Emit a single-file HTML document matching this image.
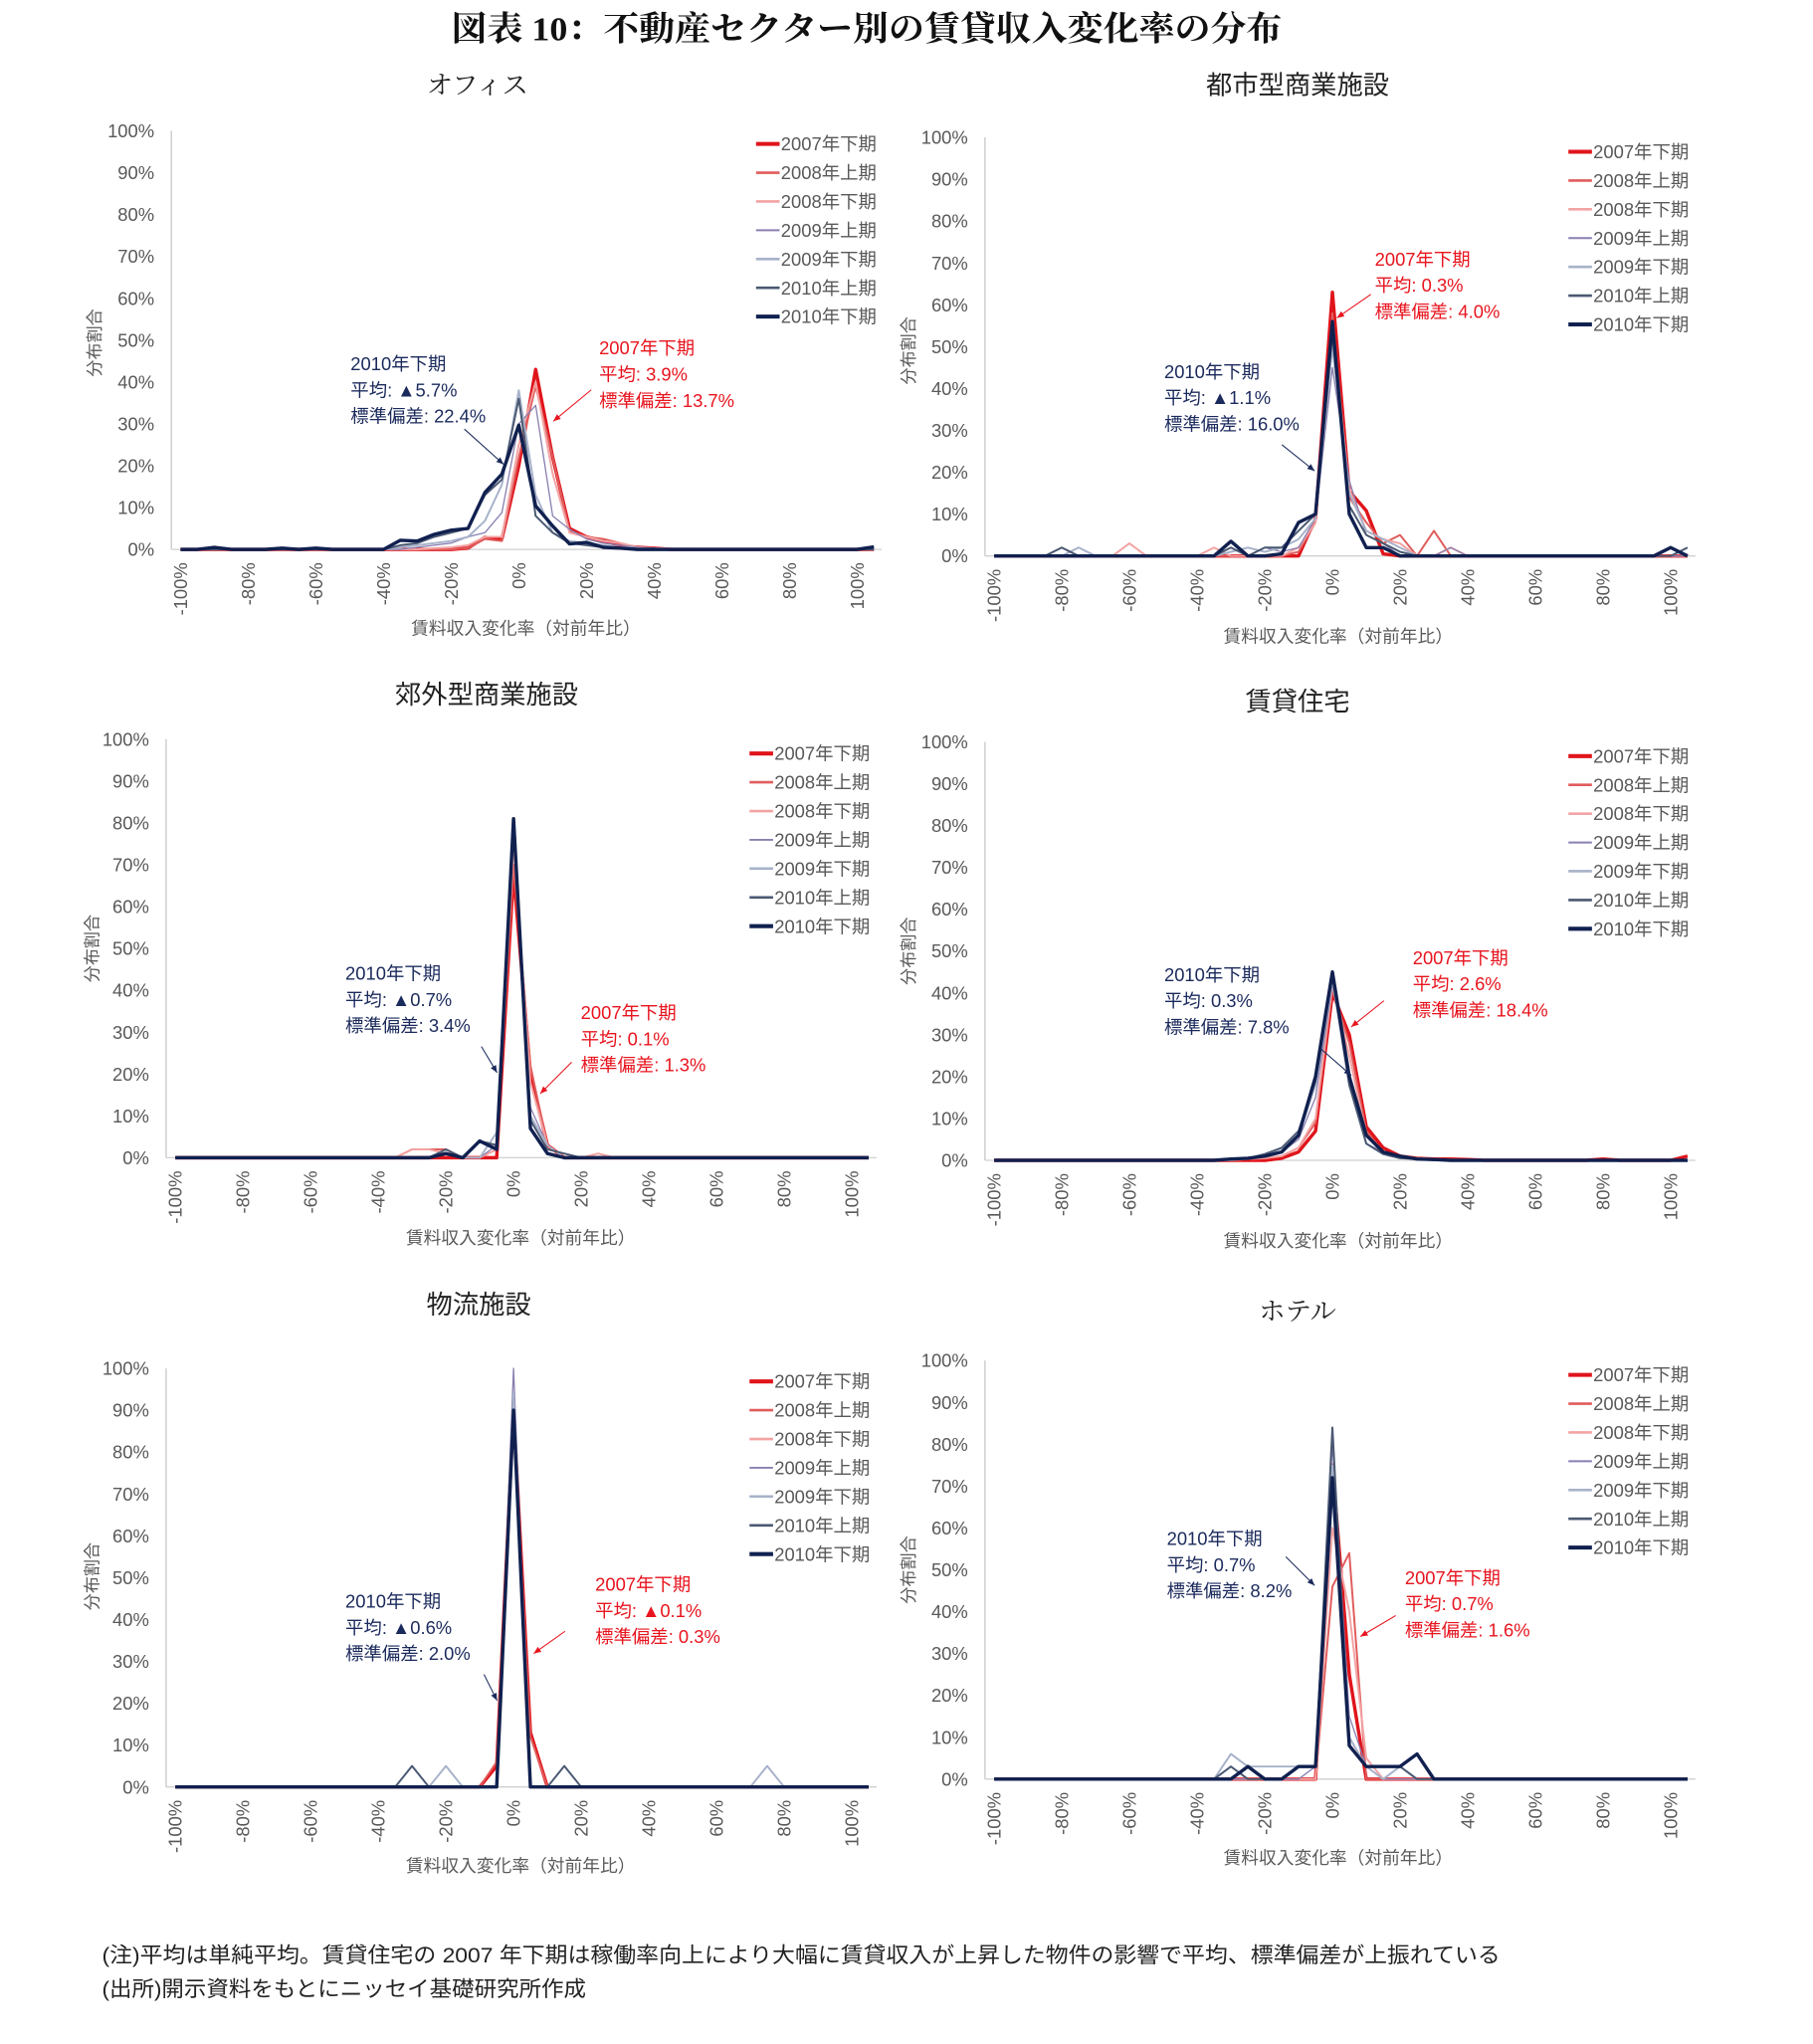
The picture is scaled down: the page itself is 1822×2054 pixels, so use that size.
<!DOCTYPE html>
<html><head><meta charset="utf-8"><style>
html,body{margin:0;padding:0;background:#fff;}
svg{display:block;font-family:"Liberation Sans","Noto Sans CJK JP",sans-serif;}
.serif{font-family:"Liberation Serif","Noto Serif CJK SC",serif;}
</style></head><body>
<svg id="root" width="1822" height="2054" viewBox="0 0 1386 1562.5" preserveAspectRatio="none" xmlns="http://www.w3.org/2000/svg">
<text class="serif" x="345" y="31" textLength="635" lengthAdjust="spacingAndGlyphs" font-size="26" font-weight="bold" fill="#111">図表 10：不動産セクター別の賃貸収入変化率の分布</text>
<text x="78" y="1500" font-size="16.5" textLength="1069" lengthAdjust="spacingAndGlyphs" fill="#222">(注)平均は単純平均。賃貸住宅の 2007 年下期は稼働率向上により大幅に賃貸収入が上昇した物件の影響で平均、標準偏差が上振れている</text>
<text x="78" y="1526" font-size="16.5" textLength="370" lengthAdjust="spacingAndGlyphs" fill="#222">(出所)開示資料をもとにニッセイ基礎研究所作成</text>
</svg>
<script>
const categories=[-100,-95,-90,-85,-80,-75,-70,-65,-60,-55,-50,-45,-40,-35,-30,-25,-20,-15,-10,-5,0,5,10,15,20,25,30,35,40,45,50,55,60,65,70,75,80,85,90,95,100,105];
const tickLabels=["-100%","-80%","-60%","-40%","-20%","0%","20%","40%","60%","80%","100%"];
const tickValues=[-100,-80,-60,-40,-20,0,20,40,60,80,100];
const yTicks=[0,10,20,30,40,50,60,70,80,90,100];
const seriesNames=["2007年下期","2008年上期","2008年下期","2009年上期","2009年下期","2010年上期","2010年下期"];
// office
const office07=[0,0,0,0,0,0,0,0,0,0,0,0, 0,0,0,0,0,0.3,2.9,2.5,20,43,22,5,3,2,1,0.5,0.3, 0,0,0,0,0,0,0,0,0,0,0,0,0];
const office08a=[0,0,0,0,0,0,0,0,0,0,0,0, 0,0,0,0,0,0.3,2.5,2,22,39,22,4.5,3,2.5,1.5,0.5,0.3, 0.2,0,0,0,0,0,0,0,0,0,0,0,0];
const office08b=[0,0,0,0,0,0,0,0,0,0,0,0, 0,0,0,0.3,0.5,1,3,3,25,40,18,4,3,2,1.5,0.5,0.3, 0.2,0.2,0,0,0,0,0,0,0,0,0,0,0];
const office09a=[0,0,0,0,0,0,0,0,0,0,0,0, 0,0,0.5,1,1.5,3,4,8.8,30,34.4,8,4.8,2.5,1.5,1,0.5,0.3, 0,0,0,0,0,0,0,0,0,0,0,0,0];
const office09b=[0,0,0,0,0,0,0,0,0,0,0,0, 0,0.5,1,1.5,2,3,6.8,15.5,38,13,4,2,1.5,1,0.5,0.3,0.2, 0,0,0,0,0,0,0,0,0,0,0,0,0];
const office10a=[0,0,0,0,0,0,0,0,0,0,0,0, 0,1,1.5,3,4,5,13,16.7,36,8,4,1.5,1,0.5,0.3,0.2,0.2, 0,0,0,0,0,0,0,0,0,0,0,0,0];
const office10b=[0,0,0.5,0,0,0,0.3,0,0.3,0,0,0, 0,2.2,2,3.6,4.6,5,13.6,18,29.7,10.4,5.6,1.3,1.7,0.5,0.3,0,0, 0,0,0,0,0,0,0,0,0,0,0,0,0.6];
// urban
const urban07=[0,0,0,0,0,0,0,0,0,0,0,0, 0,0,0,0,0,0,0,9,63,15.5,10.8,0.5,0,0,0,0,0, 0,0,0,0,0,0,0,0,0,0,0,0,0];
const urban08a=[0,0,0,0,0,0,0,0,0,0,0,0, 0,0,0,0,0,0,1,8,58,14,8,3,5,0,6,0,0, 0,0,0,0,0,0,0,0,0,0,0,0,0];
const urban08b=[0,0,0,0,0,0,0,0,3,0,0,0, 0,2,0,0,0,0,2,8,55,16,6,4,3,0,0,2,0, 0,0,0,0,0,0,0,0,0,0,0,0,0];
const urban09a=[0,0,0,0,0,0,0,0,0,0,0,0, 0,0,2,0,2,1,2,9,45,18,5,3,0,0,0,2,0, 0,0,0,0,0,0,0,0,0,0,0,0,0];
const urban09b=[0,0,0,0,0,2,0,0,0,0,0,0, 0,0,1,2,1,2,4,9,50,15,6,4,2,0,0,0,0, 0,0,0,0,0,0,0,0,0,0,0,2,0];
const urban10a=[0,0,0,0,2,0,0,0,0,0,0,0, 0,0,2,0,2,2,6,10,53,12,5,3,1,0,0,0,0, 0,0,0,0,0,0,0,0,0,0,0,0,2];
const urban10b=[0,0,0,0,0,0,0,0,0,0,0,0, 0,0,3.5,0,0,0.5,8,10,56,10,2,2,0,0,0,0,0, 0,0,0,0,0,0,0,0,0,0,0,2,0];
// suburban
const sub07=[0,0,0,0,0,0,0,0,0,0,0,0, 0,0,0,0,0,0,0,0,68,20,3,0,0,0,0,0,0, 0,0,0,0,0,0,0,0,0,0,0,0,0];
const sub08a=[0,0,0,0,0,0,0,0,0,0,0,0, 0,0,2,2,2,0,0,2,70,22,3,0,0,0,0,0,0, 0,0,0,0,0,0,0,0,0,0,0,0,0];
const sub08b=[0,0,0,0,0,0,0,0,0,0,0,0, 0,0,2,2,1,0,0,2,75,18,3,0,0,1,0,0,0, 0,0,0,0,0,0,0,0,0,0,0,0,0];
const sub09a=[0,0,0,0,0,0,0,0,0,0,0,0, 0,0,0,0,1,0,0,3,80,12,3,0,0,0,0,0,0, 0,0,0,0,0,0,0,0,0,0,0,0,0];
const sub09b=[0,0,0,0,0,0,0,0,0,0,0,0, 0,0,0,0,1,0,0,6,79,10,3,0,0,0,0,0,0, 0,0,0,0,0,0,0,0,0,0,0,0,0];
const sub10a=[0,0,0,0,0,0,0,0,0,0,0,0, 0,0,0,0,2,0,4,3,80,9,2,1,0,0,0,0,0, 0,0,0,0,0,0,0,0,0,0,0,0,0];
const sub10b=[0,0,0,0,0,0,0,0,0,0,0,0, 0,0,0,0,1,0,4,2,81,7,1,0,0,0,0,0,0, 0,0,0,0,0,0,0,0,0,0,0,0,0];
// rental
const rent07=[0,0,0,0,0,0,0,0,0,0,0,0, 0,0,0,0,0,0.5,2,7,40,30,8,3,1,0.5,0.3,0.3,0.2, 0,0,0,0,0,0,0,0.3,0,0,0,0,1];
const rent08a=[0,0,0,0,0,0,0,0,0,0,0,0, 0,0,0,0.3,0.5,1,3,9,41,28,7,2,1,0.5,0.3,0.2,0.1, 0,0,0,0,0,0,0,0,0,0,0,0,0];
const rent08b=[0,0,0,0,0,0,0,0,0,0,0,0, 0,0,0,0.3,0.5,1,3,10,42,25,6,2,1,0.5,0.3,0.2,0.1, 0,0,0,0,0,0,0,0,0,0,0,0,0];
const rent09a=[0,0,0,0,0,0,0,0,0,0,0,0, 0,0,0,0.5,1,2,5,15,42,20,4,2,1,0.5,0.3,0,0, 0,0,0,0,0,0,0,0,0,0,0,0,0];
const rent09b=[0,0,0,0,0,0,0,0,0,0,0,0, 0,0,0.3,0.5,1,3,6,18,43,18,4,1.5,1,0.3,0.2,0,0, 0,0,0,0,0,0,0,0,0,0,0,0,0];
const rent10a=[0,0,0,0,0,0,0,0,0,0,0,0, 0,0,0.3,0.5,1.5,3,7,19,44,18,4,1.5,0.5,0.3,0,0,0, 0,0,0,0,0,0,0,0,0,0,0,0,0];
const rent10b=[0,0,0,0,0,0,0,0,0,0,0,0, 0,0,0.3,0.5,1,2,6,20,45,20,6,2,1,0.3,0.2,0,0, 0,0,0,0,0,0,0,0,0,0,0,0,0];
// logistics
const logi07=[0,0,0,0,0,0,0,0,0,0,0,0, 0,0,0,0,0,0,0,5,90,13,0,0,0,0,0,0,0, 0,0,0,0,0,0,0,0,0,0,0,0,0];
const logi08a=[0,0,0,0,0,0,0,0,0,0,0,0, 0,0,0,0,0,0,0,6,88,12,0,0,0,0,0,0,0, 0,0,0,0,0,0,0,0,0,0,0,0,0];
const logi08b=[0,0,0,0,0,0,0,0,0,0,0,0, 0,0,0,0,0,0,0,0,92,0,0,0,0,0,0,0,0, 0,0,0,0,0,0,0,0,0,0,0,0,0];
const logi09a=[0,0,0,0,0,0,0,0,0,0,0,0, 0,0,0,0,0,0,0,0,100,0,0,0,0,0,0,0,0, 0,0,0,0,0,0,0,0,0,0,0,0,0];
const logi09b=[0,0,0,0,0,0,0,0,0,0,0,0, 0,0,0,0,5,0,0,0,94,0,0,0,0,0,0,0,0, 0,0,0,0,0,0,5,0,0,0,0,0,0];
const logi10a=[0,0,0,0,0,0,0,0,0,0,0,0, 0,0,5,0,0,0,0,0,90,0,0,5,0,0,0,0,0, 0,0,0,0,0,0,0,0,0,0,0,0,0];
const logi10b=[0,0,0,0,0,0,0,0,0,0,0,0, 0,0,0,0,0,0,0,0,90,0,0,0,0,0,0,0,0, 0,0,0,0,0,0,0,0,0,0,0,0,0];
// hotel
const hotel07=[0,0,0,0,0,0,0,0,0,0,0,0, 0,0,0,0,0,0,0,0,75,25,0,0,0,0,0,0,0, 0,0,0,0,0,0,0,0,0,0,0,0,0];
const hotel08a=[0,0,0,0,0,0,0,0,0,0,0,0, 0,0,0,0,0,0,0,0,46,54,0,0,0,0,0,0,0, 0,0,0,0,0,0,0,0,0,0,0,0,0];
const hotel08b=[0,0,0,0,0,0,0,0,0,0,0,0, 0,0,0,0,0,0,0,0,60,40,5,0,0,0,0,0,0, 0,0,0,0,0,0,0,0,0,0,0,0,0];
const hotel09a=[0,0,0,0,0,0,0,0,0,0,0,0, 0,0,0,0,0,0,0,3,80,15,3,0,0,0,0,0,0, 0,0,0,0,0,0,0,0,0,0,0,0,0];
const hotel09b=[0,0,0,0,0,0,0,0,0,0,0,0, 0,0,6,3,3,3,3,3,75,10,3,0,3,0,0,0,0, 0,0,0,0,0,0,0,0,0,0,0,0,0];
const hotel10a=[0,0,0,0,0,0,0,0,0,0,0,0, 0,0,3,0,0,0,3,3,84,8,3,3,3,0,0,0,0, 0,0,0,0,0,0,0,0,0,0,0,0,0];
const hotel10b=[0,0,0,0,0,0,0,0,0,0,0,0, 0,0,0,3,0,0,3,3,72,8,3,3,3,6,0,0,0, 0,0,0,0,0,0,0,0,0,0,0,0,0];

const styles=[
 {c:"#e0141b",w:2.6},{c:"#e05c5c",w:1.5},{c:"#f3a3a3",w:1.5},
 {c:"#8a7fb0",w:1},{c:"#a7b2ca",w:1.5},{c:"#4a5872",w:1.5},{c:"#10204f",w:2.6}];
const NS="http://www.w3.org/2000/svg";
const root=document.getElementById('root');
function mk(tag,attrs,parent){const e=document.createElementNS(NS,tag);for(const k in attrs)e.setAttribute(k,attrs[k]);(parent||root).appendChild(e);return e;}

function drawChart(cfg,data){
 const g=mk('g',{});
 
 
 const step=12.93;
 const xs=v=>cfg.x0+(v+100)/5*step;
 const ys=v=>cfg.y0-(v/100)*(cfg.y0-cfg.y100);
 const t=mk('text',{x:cfg.tx,y:cfg.ty,'text-anchor':'middle','font-size':20,fill:'#222'},g);
 if(cfg.serif)t.setAttribute('class','serif');
 t.textContent=cfg.title;
 
 
 const ax=mk('line',{x1:cfg.ax,y1:cfg.y100,x2:cfg.ax,y2:cfg.y0,stroke:'#c8c8c8','stroke-width':1},g);
 
 
 const bx=mk('line',{x1:cfg.ax,y1:cfg.y0,x2:xs(105)+6,y2:cfg.y0,stroke:'#d0d0d0','stroke-width':1},g);
 
 
 yTicks.forEach(v=>{const e=mk('text',{x:cfg.ax-13,y:ys(v)+5,'text-anchor':'end','font-size':14,fill:'#595959'},g);e.textContent=v+'%';
  
  });
 tickValues.forEach((v,i)=>{const x=xs(v),y=cfg.y0+10;const e=mk('text',{x:x,y:y,transform:`rotate(-90 ${x} ${y})`,'text-anchor':'end','font-size':14,fill:'#595959',dy:5},g);e.textContent=tickLabels[i];
  
  });
 const yt=mk('text',{x:cfg.yax,y:cfg.yay,transform:`rotate(-90 ${cfg.yax} ${cfg.yay})`,'text-anchor':'middle','font-size':13,fill:'#595959'},g);yt.textContent='分布割合';
 
 
 const xt=mk('text',{x:cfg.xax,y:cfg.xay+5,'text-anchor':'middle','font-size':13.5,fill:'#595959'},g);xt.textContent='賃料収入変化率（対前年比）';
 
 
 data.forEach((arr,si)=>{
  const pts=arr.map((v,i)=>xs(categories[i]).toFixed(1)+','+ys(v).toFixed(1)).join(' ');
  const p=mk('polyline',{points:pts,fill:'none',stroke:styles[si].c,'stroke-width':styles[si].w,'stroke-linejoin':'round'},g);
  
  
 });
 seriesNames.forEach((n,i)=>{const y=cfg.ly+i*22;
  const l=mk('line',{x1:cfg.lx,y1:y,x2:cfg.lx+18,y2:y,stroke:styles[i].c,'stroke-width':styles[i].w+0.5},g);
  
  
  const e=mk('text',{x:cfg.lx+19,y:y+5,'font-size':14,fill:'#595959'},g);e.textContent=n;
  
  });
 const ann=(a,col,nm)=>{a.lines.forEach((s,i)=>{const e=mk('text',{x:a.x,y:a.y+i*20+5,'font-size':14,fill:col},g);e.textContent=s;
   
   });
  const ar=mk('line',{x1:a.a[0],y1:a.a[1],x2:a.a[2],y2:a.a[3],stroke:col,'stroke-width':0.8},g);
  
  
  const ang=Math.atan2(a.a[3]-a.a[1],a.a[2]-a.a[0]);const L=6;
  const h=mk('polygon',{points:`${a.a[2]},${a.a[3]} ${a.a[2]-L*Math.cos(ang-0.4)},${a.a[3]-L*Math.sin(ang-0.4)} ${a.a[2]-L*Math.cos(ang+0.4)},${a.a[3]-L*Math.sin(ang+0.4)}`,fill:col},g);
  
  };
 ann(cfg.blue,'#1b2a5c','annotation-2010h2');
 ann(cfg.red,'#e8141e','annotation-2007h2');
}
drawChart({name:'office-chart',title:'オフィス',serif:true,tx:365,ty:72,ax:131,x0:138,y100:100,y0:420,yax:77,yay:262,xax:402,xay:480,lx:578,ly:110,
 blue:{x:268,y:278,lines:['2010年下期','平均: ▲5.7%','標準偏差: 22.4%'],a:[355,328,385,355]},
 red:{x:458,y:266,lines:['2007年下期','平均: 3.9%','標準偏差: 13.7%'],a:[452,298,423,322]}},
 [office07,office08a,office08b,office09a,office09b,office10a,office10b]);
drawChart({name:'urban-retail-chart',title:'都市型商業施設',tx:992,ty:72,ax:753,x0:760,y100:105,y0:425,yax:699,yay:268,xax:1023,xay:486,lx:1199,ly:116,
 blue:{x:890,y:284,lines:['2010年下期','平均: ▲1.1%','標準偏差: 16.0%'],a:[980,340,1005,360]},
 red:{x:1051,y:198,lines:['2007年下期','平均: 0.3%','標準偏差: 4.0%'],a:[1048,225,1022,243]}},
 [urban07,urban08a,urban08b,urban09a,urban09b,urban10a,urban10b]);
drawChart({name:'suburban-retail-chart',title:'郊外型商業施設',tx:372,ty:538,ax:127,x0:134,y100:565,y0:885,yax:75,yay:725,xax:398,xay:946,lx:573,ly:576,
 blue:{x:264,y:744,lines:['2010年下期','平均: ▲0.7%','標準偏差: 3.4%'],a:[368,800,380,820]},
 red:{x:444,y:774,lines:['2007年下期','平均: 0.1%','標準偏差: 1.3%'],a:[437,812,413,836]}},
 [sub07,sub08a,sub08b,sub09a,sub09b,sub10a,sub10b]);
drawChart({name:'rental-housing-chart',title:'賃貸住宅',tx:992,ty:543,ax:753,x0:760,y100:567,y0:887,yax:699,yay:727,xax:1023,xay:948,lx:1199,ly:578,
 blue:{x:890,y:745,lines:['2010年下期','平均: 0.3%','標準偏差: 7.8%'],a:[1010,802,1033,822]},
 red:{x:1080,y:732,lines:['2007年下期','平均: 2.6%','標準偏差: 18.4%'],a:[1058,765,1033,785]}},
 [rent07,rent08a,rent08b,rent09a,rent09b,rent10a,rent10b]);
drawChart({name:'logistics-chart',title:'物流施設',tx:366,ty:1004,ax:127,x0:134,y100:1046,y0:1366,yax:75,yay:1205,xax:398,xay:1426,lx:573,ly:1056,
 blue:{x:264,y:1224,lines:['2010年下期','平均: ▲0.6%','標準偏差: 2.0%'],a:[370,1280,380,1300]},
 red:{x:455,y:1211,lines:['2007年下期','平均: ▲0.1%','標準偏差: 0.3%'],a:[432,1247,408,1264]}},
 [logi07,logi08a,logi08b,logi09a,logi09b,logi10a,logi10b]);
drawChart({name:'hotel-chart',title:'ホテル',serif:true,tx:992,ty:1009,ax:753,x0:760,y100:1040,y0:1360,yax:699,yay:1200,xax:1023,xay:1420,lx:1199,ly:1051,
 blue:{x:892,y:1176,lines:['2010年下期','平均: 0.7%','標準偏差: 8.2%'],a:[983,1190,1005,1212]},
 red:{x:1074,y:1206,lines:['2007年下期','平均: 0.7%','標準偏差: 1.6%'],a:[1067,1235,1040,1251]}},
 [hotel07,hotel08a,hotel08b,hotel09a,hotel09b,hotel10a,hotel10b]);
</script>
</body></html>
